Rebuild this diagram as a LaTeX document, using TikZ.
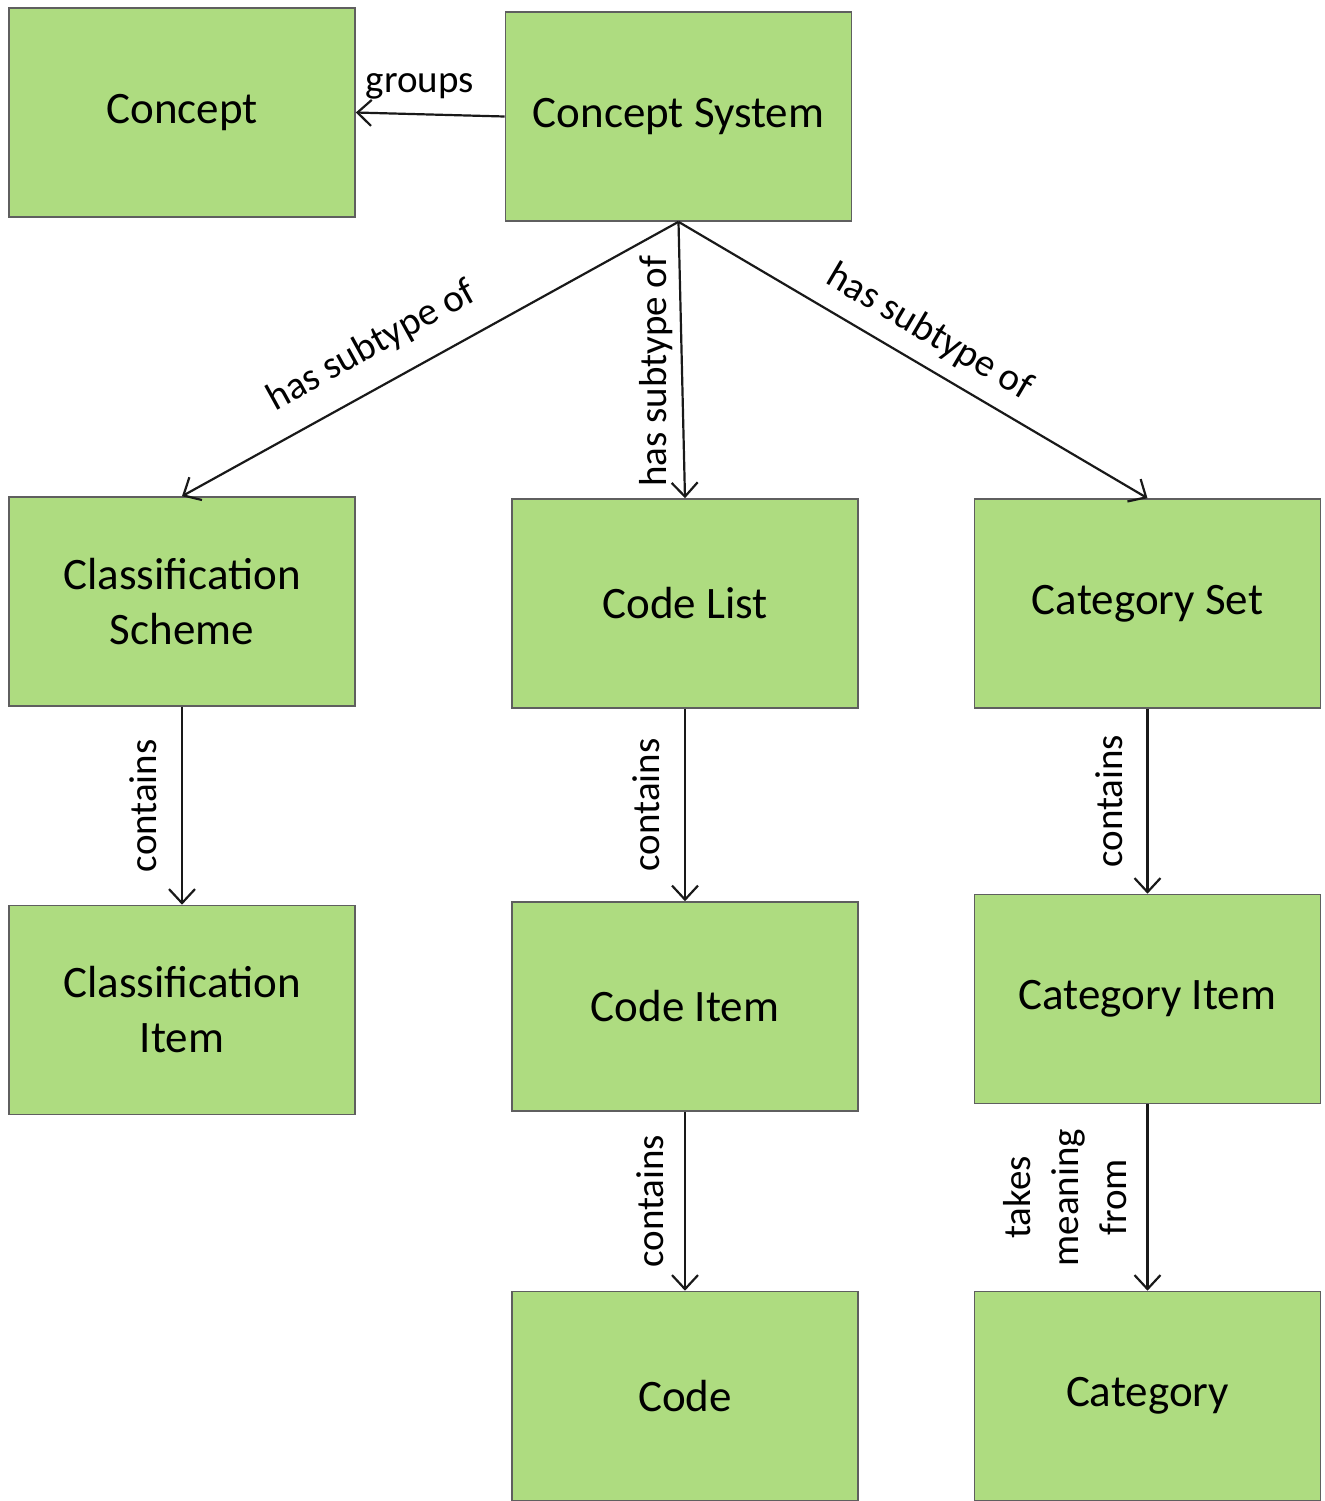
\documentclass[tikz,border=0pt]{standalone}
\usepackage{fontspec}
\setmainfont{Carlito}
\usetikzlibrary{arrows.meta}
\definecolor{boxgreen}{RGB}{174,220,128}
\definecolor{boxline}{RGB}{95,95,95}
\tikzset{
  box/.style={draw=boxline, line width=0.8pt, fill=boxgreen, minimum width=173pt, minimum height=104.5pt,
    inner sep=0pt, align=center, font=\fontsize{22.5}{27.5}\selectfont},
  conn/.style={line width=1.1pt, draw=black!90, -{Straight Barb[length=7pt,width=13pt,line width=1.1pt]}},
  lbl/.style={font=\fontsize{19.5}{21}\selectfont, inner sep=2pt},
}
\begin{document}
\begin{tikzpicture}[x=0.5pt,y=-0.5pt]
\useasboundingbox (0,0) rectangle (1325,1501);
\node[box] (concept) at (182,112.5) {Concept};
\node[box] (system) at (678.5,116.5) {Concept System};
\node[box] (scheme) at (182,601.5) {Classification\\Scheme};
\node[box] (codelist) at (685,603.5) {Code List};
\node[box] (catset) at (1147.5,603.5) {Category Set};
\node[box] (classitem) at (182,1010) {Classification\\Item};
\node[box] (codeitem) at (685,1006.5) {Code Item};
\node[box] (catitem) at (1147.5,999) {Category Item};
\node[box] (code) at (685,1396) {Code};
\node[box] (cat) at (1147.5,1396) {Category};

\draw[conn] (system.west) -- node[lbl, above, pos=0.57, yshift=5pt] {groups} (concept.east);
\draw[conn] (system.south) -- node[lbl, sloped, above, pos=0.58, yshift=9pt] {has subtype of} (scheme.north);
\draw[conn] (system.south) -- node[lbl, rotate=90, anchor=south, pos=0.54, yshift=2pt] {has subtype of} (codelist.north);
\draw[conn] (system.south) -- node[lbl, sloped, above, pos=0.5, yshift=5pt] {has subtype of} (catset.north);
\draw[conn] (scheme.south) -- node[lbl, rotate=90, anchor=south, midway, yshift=10pt] {contains} (classitem.north);
\draw[conn] (codelist.south) -- node[lbl, rotate=90, anchor=south, midway, yshift=10pt] {contains} (codeitem.north);
\draw[conn] (catset.south) -- node[lbl, rotate=90, anchor=south, midway, yshift=10pt] {contains} (catitem.north);
\draw[conn] (codeitem.south) -- node[lbl, rotate=90, anchor=south, midway, yshift=8pt] {contains} (code.north);
\draw[conn] (catitem.south) -- node[lbl, rotate=90, anchor=south, midway, yshift=8pt, align=center, font=\fontsize{19.5}{24}\selectfont] {takes\\meaning\\from} (cat.north);
\end{tikzpicture}
\end{document}
